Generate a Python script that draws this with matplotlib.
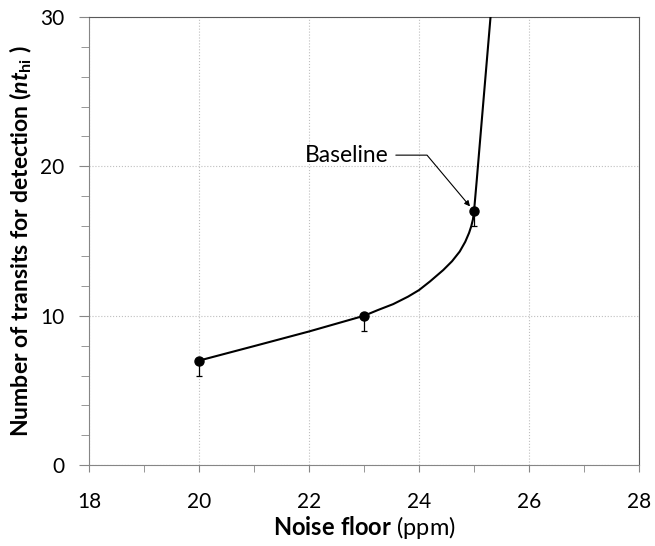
import matplotlib.pyplot as plt
from matplotlib.ticker import MultipleLocator

plt.rcParams['font.family'] = ['Lato', 'DejaVu Sans']
plt.rcParams['mathtext.fontset'] = 'custom'
plt.rcParams['mathtext.rm'] = 'Lato:bold'
plt.rcParams['mathtext.bf'] = 'Lato:bold'
plt.rcParams['mathtext.it'] = 'Lato:bold:italic'

# measured points (noise floor in ppm, transits needed) and lower error
noise_ppm = [20, 23, 25]
n_transits = [7, 10, 17]
err_low = [1, 1, 1]

# fitted curve
curve_x = [20, 21, 22, 23, 23.25, 23.53, 23.8, 24.0, 24.2, 24.44, 24.6, 24.74,
           24.84, 24.91, 24.95, 24.98, 25.0, 25.05, 25.1, 25.2, 25.3, 25.35]
curve_y = [7, 7.97, 8.95, 10, 10.38, 10.78, 11.28, 11.72, 12.3, 13.06, 13.65, 14.3,
           14.95, 15.55, 16.0, 16.45, 17, 19.1, 21.3, 25.65, 30, 32.2]

fig, ax = plt.subplots(figsize=(6.55, 5.46), dpi=100)
fig.subplots_adjust(left=0.136, right=0.9756, bottom=0.148, top=0.969)

ax.plot(curve_x, curve_y, color='black', lw=1.5, zorder=3)
ax.errorbar(noise_ppm, n_transits, yerr=[err_low, [0, 0, 0]], fmt='o',
            color='black', ms=6.5, ecolor='black', elinewidth=0.9,
            capsize=2.5, capthick=0.9, zorder=4)

ax.annotate('Baseline', xy=(25, 17), xytext=(22.69, 20.75), fontsize=16.4,
            ha='center', va='center',
            arrowprops=dict(arrowstyle='-|>', color='black', lw=0.8,
                            mutation_scale=8, shrinkA=3, shrinkB=4.5,
                            relpos=(1, 0.5),
                            connectionstyle='angle,angleA=0,angleB=130,rad=0'))

ax.set_xlim(18, 28)
ax.set_ylim(0, 30)
ax.xaxis.set_major_locator(MultipleLocator(2))
ax.xaxis.set_minor_locator(MultipleLocator(1))
ax.yaxis.set_major_locator(MultipleLocator(10))
ax.yaxis.set_minor_locator(MultipleLocator(2))

ax.grid(True, which='major', color='#bfbfbf', ls=':', lw=0.8)
ax.set_axisbelow(True)

ax.tick_params(axis='x', which='both', direction='out', length=5, color='#868686',
               labelsize=15, pad=14)
ax.tick_params(axis='y', which='major', direction='out', length=7, color='#868686',
               labelsize=15, pad=11)
ax.tick_params(axis='y', which='minor', direction='out', length=6, color='#868686')

for side in ['left', 'bottom']:
    ax.spines[side].set_color('#868686')
for side in ['top', 'right']:
    ax.spines[side].set_color('#595959')

ax.set_xlabel(r'$\mathbf{Noise\ floor}$ (ppm)', fontsize=17, labelpad=2)
ax.set_ylabel(r'Number of transits for detection $\mathit{(nt}_{\mathrm{hi}}$ )',
              fontsize=16.6, fontweight='bold', labelpad=4)

fig.savefig('out.png', dpi=100)
